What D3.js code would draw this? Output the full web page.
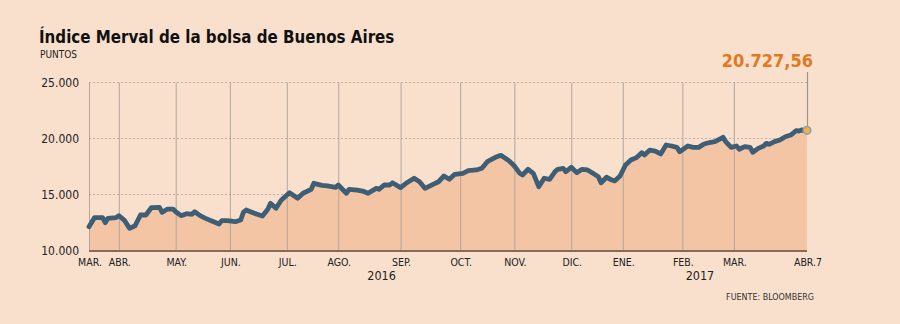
<!DOCTYPE html>
<html><head><meta charset="utf-8">
<script src="https://cdn.jsdelivr.net/npm/d3@7"></script>
<style>
html,body{margin:0;padding:0;background:#F9E0CD;}
svg{display:block;}
text{font-family:"DejaVu Sans Condensed","DejaVu Sans",sans-serif;font-stretch:condensed;}
</style>
</head><body>
<svg id="chart" width="900" height="324"></svg>
<script>
// ---- data (x = trading session index, y = Merval points) ----
const sessions = [0,2,5,6,7,10,11,13,15,17,19,21,23,26,27,29,31,32,34,36,38,39,41,43,46,48,49,51,54,56,57,58,61,64,66,67,69,71,74,77,79,82,83,86,88,91,92,95,96,99,101,103,106,107,109,111,112,115,117,120,122,124,127,129,131,133,135,138,140,143,145,147,150,152,155,157,159,160,162,164,166,168,170,172,173,175,176,178,180,182,184,186,188,189,191,193,194,196,198,200,202,204,205,207,209,211,213,215,217,218,221,223,225,227,229,231,234,235,237,239,240,242,244,245,247,249,250,251,253,255,257,259,261,262,263,265];
const values = [12120,12930,12930,12480,12870,12930,13110,12720,11980,12210,13170,13170,13820,13850,13410,13700,13700,13460,13110,13290,13230,13460,13110,12870,12570,12370,12660,12660,12570,12720,13410,13620,13320,13080,13680,14210,13770,14510,15160,14660,15110,15460,16000,15820,15760,15640,15850,15110,15460,15400,15310,15110,15550,15460,15850,15850,16050,15610,16000,16450,16140,15550,15910,16140,16650,16360,16800,16890,17130,17190,17340,17930,18320,18500,18020,17540,16890,16740,17250,16890,15700,16450,16360,17040,17250,17340,17040,17430,16950,17250,17190,16890,16590,16050,16540,16290,16210,16650,17630,18080,18290,18730,18530,18970,18880,18620,19420,19330,19210,18820,19330,19210,19210,19510,19640,19720,20110,19720,19210,19330,19040,19270,19210,18770,19120,19330,19570,19480,19720,19870,20160,20310,20700,20670,20760,20727.56];
const monthTicks = [0,11,32,52,73,92,115,137,157,178,197,219,238,265];
const monthLabels = ["MAR.","ABR.","MAY.","JUN.","JUL.","AGO.","SEP.","OCT.","NOV.","DIC.","ENE.","FEB.","MAR.","ABR.7"];
const yearPos = [108,225.5];
const yearLabels = ["2016","2017"];
const yTicks = [10000,15000,20000,25000];
const title = "Índice Merval de la bolsa de Buenos Aires";
const unitLabel = "PUNTOS";
const source = "FUENTE: BLOOMBERG";

// ---- drawing ----
const es = d3.formatLocale({decimal:",",thousands:".",grouping:[3],currency:["","€"]});
const fmtTick = es.format(",.0f");
const fmtLast = es.format(",.2f");

const svg = d3.select("#chart");
svg.append("rect").attr("width",900).attr("height",324).attr("fill","#F9E0CD");

const x = d3.scaleLinear().domain([0,265]).range([89,807]);
const y = d3.scaleLinear().domain([10000,25000]).range([250.5,82.5]);

const data = sessions.map((s,i)=>({s, v:values[i]}));

// horizontal dotted grid
svg.append("g").selectAll("line").data(yTicks.filter(d=>d>10000)).join("line")
  .attr("x1",x(0)).attr("x2",x(265))
  .attr("y1",d=>y(d)).attr("y2",d=>y(d))
  .attr("stroke","#C7B0A1").attr("stroke-width",1).attr("stroke-dasharray","2,2");

// area
svg.append("path").datum(data)
  .attr("fill","#F4C5A4")
  .attr("d",d3.area().x(d=>x(d.s)).y0(y(10000)).y1(d=>y(d.v)));

// vertical month grid
svg.append("g").selectAll("line").data(monthTicks.slice(0,-1)).join("line")
  .attr("x1",d=>x(d)+0.5).attr("x2",d=>x(d)+0.5)
  .attr("y1",y(25000)).attr("y2",y(10000))
  .attr("stroke","#B3A59B").attr("stroke-width",1);

// y tick labels
svg.append("g").selectAll("text").data(yTicks).join("text")
  .attr("x",79).attr("y",d=>y(d)+4.5)
  .attr("text-anchor","end").attr("font-size",12).attr("fill","#222")
  .text(d=>fmtTick(d));

// baseline axis
svg.append("line").attr("x1",x(0)).attr("x2",x(265)).attr("y1",y(10000)+0.5).attr("y2",y(10000)+0.5)
  .attr("stroke","#8A6A58").attr("stroke-width",2);

// month labels
svg.append("g").selectAll("text").data(monthTicks).join("text")
  .attr("x",d=>x(d)+1).attr("y",266)
  .attr("text-anchor","middle")
  .attr("font-size",10.5).attr("fill","#222")
  .text((d,i)=>monthLabels[i]);

// year labels
svg.append("g").selectAll("text").data(yearPos).join("text")
  .attr("x",d=>x(d)).attr("y",279.5).attr("text-anchor","middle")
  .attr("font-size",12.5).attr("fill","#222")
  .text((d,i)=>yearLabels[i]);

// line
svg.append("path").datum(data)
  .attr("fill","none").attr("stroke","#3D5E74").attr("stroke-width",4.8)
  .attr("stroke-linejoin","round").attr("stroke-linecap","round")
  .attr("d",d3.line().x(d=>x(d.s)).y(d=>y(d.v)));

// last value annotation
const last = data[data.length-1];
svg.append("line").attr("x1",x(last.s)+0.5).attr("x2",x(last.s)+0.5)
  .attr("y1",72).attr("y2",y(last.v))
  .attr("stroke","#9E948C").attr("stroke-width",1.2);
svg.append("circle").attr("cx",x(last.s)).attr("cy",y(last.v)).attr("r",3.8)
  .attr("fill","#F4AF40").attr("stroke","#8DA1B2").attr("stroke-width",1.6);
svg.append("text").attr("x",813).attr("y",67).attr("text-anchor","end")
  .attr("font-size",18).attr("font-weight","bold").attr("fill","#E07A22")
  .text(fmtLast(last.v));

// title & labels
svg.append("text").attr("x",39).attr("y",43).attr("font-size",16.8).attr("font-weight","bold").attr("fill","#111").text(title);
svg.append("text").attr("x",40).attr("y",58).attr("font-size",10).attr("fill","#222").text(unitLabel);
svg.append("text").attr("x",814).attr("y",299.5).attr("text-anchor","end").attr("font-size",8.9).attr("fill","#333").text(source);
</script>
</body></html>
